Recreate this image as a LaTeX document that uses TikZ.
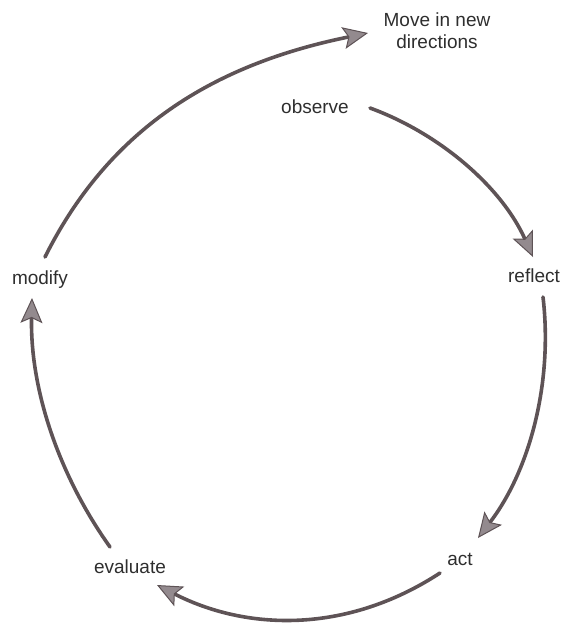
\documentclass[tikz,border=0pt]{standalone}
\usepackage{fontspec}
\setmainfont{Liberation Sans}
\usetikzlibrary{arrows.meta}
\definecolor{arrowline}{HTML}{5E5356}
\definecolor{arrowfill}{HTML}{938A8E}
\definecolor{txt}{HTML}{2E2E2E}
\begin{document}
\begin{tikzpicture}[x=1pt,y=-1pt,
  lbl/.style={inner sep=0pt, text=txt, font=\fontsize{19}{22}\selectfont, align=center},
  cyc/.style={draw=arrowline, line width=3.6pt, line cap=round,
    -{Stealth[length=25pt,width=22pt,inset=5pt,fill=arrowfill,line width=1pt]}}]
\useasboundingbox (0,0) rectangle (563,630);
\node[lbl] (move) at (437,31) {Move in new\\directions};
\node[lbl] (observe) at (315,107) {observe};
\node[lbl] (reflect) at (534,276) {reflect};
\node[lbl] (act) at (460,559) {act};
\node[lbl] (evaluate) at (130,567) {evaluate};
\node[lbl] (modify) at (40,280) {modify};
% arrow end points
\coordinate (a1s) at (45,257);  \coordinate (a1e) at (368,33);
\coordinate (a2s) at (370,108); \coordinate (a2e) at (533,257);
\coordinate (a3s) at (543,297); \coordinate (a3e) at (478,538);
\coordinate (a4s) at (440,573); \coordinate (a4e) at (157,585);
\coordinate (a5s) at (110,547); \coordinate (a5e) at (32,298);
\draw[cyc] (a1s) .. controls (112,123) and (221,63) .. (a1e);
\draw[cyc] (a2s) .. controls (441,134) and (502,188) .. (a2e);
\draw[cyc] (a3s) .. controls (553,382) and (530,470) .. (a3e);
\draw[cyc] (a4s) .. controls (345,635) and (245,630) .. (a4e);
\draw[cyc] (a5s) .. controls (58,474) and (30,388) .. (a5e);
\end{tikzpicture}
\end{document}
